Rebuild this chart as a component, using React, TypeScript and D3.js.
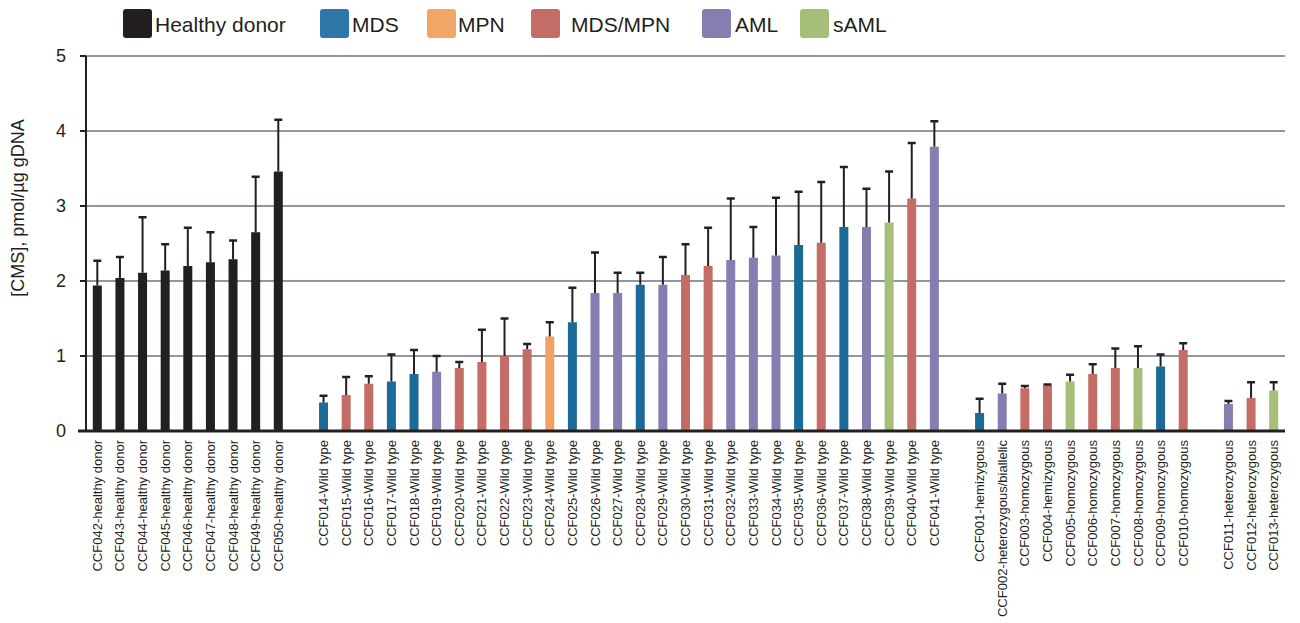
import React from "react";
import * as d3 from "d3";

const sampleIds = [
  "CCF042-healthy donor", "CCF043-healthy donor", "CCF044-healthy donor", "CCF045-healthy donor",
  "CCF046-healthy donor", "CCF047-healthy donor", "CCF048-healthy donor", "CCF049-healthy donor",
  "CCF050-healthy donor",
  "CCF014-Wild type", "CCF015-Wild type", "CCF016-Wild type", "CCF017-Wild type", "CCF018-Wild type",
  "CCF019-Wild type", "CCF020-Wild type", "CCF021-Wild type", "CCF022-Wild type", "CCF023-Wild type",
  "CCF024-Wild type", "CCF025-Wild type", "CCF026-Wild type", "CCF027-Wild type", "CCF028-Wild type",
  "CCF029-Wild type", "CCF030-Wild type", "CCF031-Wild type", "CCF032-Wild type", "CCF033-Wild type",
  "CCF034-Wild type", "CCF035-Wild type", "CCF036-Wild type", "CCF037-Wild type", "CCF038-Wild type",
  "CCF039-Wild type", "CCF040-Wild type", "CCF041-Wild type",
  "CCF001-hemizygous", "CCF002-heterozygous/biallelic", "CCF003-homozygous", "CCF004-hemizygous",
  "CCF005-homozygous", "CCF006-homozygous", "CCF007-homozygous", "CCF008-homozygous",
  "CCF009-homozygous", "CCF010-homozygous",
  "CCF011-heterozygous", "CCF012-heterozygous", "CCF013-heterozygous",
];

const sampleGroup = [
  0, 0, 0, 0, 0, 0, 0, 0, 0,
  1, 1, 1, 1, 1, 1, 1, 1, 1, 1, 1, 1, 1, 1, 1, 1, 1, 1, 1, 1, 1, 1, 1, 1, 1, 1, 1, 1,
  2, 2, 2, 2, 2, 2, 2, 2, 2, 2,
  3, 3, 3,
];

const cmsMean = [
  1.94, 2.04, 2.11, 2.14, 2.20, 2.25, 2.29, 2.65, 3.46,
  0.38, 0.48, 0.63, 0.66, 0.76, 0.79, 0.84, 0.92, 1.00, 1.09,
  1.26, 1.45, 1.84, 1.84, 1.95, 1.95, 2.08, 2.20, 2.28, 2.31,
  2.34, 2.48, 2.51, 2.72, 2.72, 2.78, 3.10, 3.79,
  0.24, 0.50, 0.57, 0.61, 0.66, 0.76, 0.84, 0.84, 0.86, 1.08,
  0.36, 0.44, 0.54,
];

const cmsError = [
  0.33, 0.28, 0.74, 0.35, 0.51, 0.40, 0.25, 0.74, 0.69,
  0.09, 0.24, 0.10, 0.36, 0.32, 0.21, 0.08, 0.43, 0.50, 0.07,
  0.19, 0.46, 0.54, 0.27, 0.16, 0.37, 0.41, 0.51, 0.82, 0.41,
  0.77, 0.71, 0.81, 0.80, 0.51, 0.68, 0.74, 0.34,
  0.19, 0.13, 0.03, 0.01, 0.09, 0.13, 0.26, 0.29, 0.16, 0.09,
  0.04, 0.21, 0.11,
];

const diagnosis = [
  "Healthy donor", "Healthy donor", "Healthy donor", "Healthy donor", "Healthy donor",
  "Healthy donor", "Healthy donor", "Healthy donor", "Healthy donor",
  "MDS", "MDS/MPN", "MDS/MPN", "MDS", "MDS", "AML", "MDS/MPN", "MDS/MPN", "MDS/MPN", "MDS/MPN",
  "MPN", "MDS", "AML", "AML", "MDS", "AML", "MDS/MPN", "MDS/MPN", "AML", "AML",
  "AML", "MDS", "MDS/MPN", "MDS", "AML", "sAML", "MDS/MPN", "AML",
  "MDS", "AML", "MDS/MPN", "MDS/MPN", "sAML", "MDS/MPN", "MDS/MPN", "sAML", "MDS", "MDS/MPN",
  "AML", "MDS/MPN", "sAML",
];

const categories = ["Healthy donor", "MDS", "MPN", "MDS/MPN", "AML", "sAML"];
const categoryColors = ["#231f20", "#1c6a98", "#f0a263", "#c46d66", "#877db0", "#a5bf78"];
const legendColors = ["#231f20", "#2d77a9", "#f1a566", "#c46d66", "#877db0", "#a5bf78"];
const legendX = [123, 320, 427, 531, 702, 800];
const legendTextX = [155, 352, 458, 571, 735, 833];

const yTicks = [0, 1, 2, 3, 4, 5];

export default function App() {
  const width = 1300;
  const height = 623;

  // build slots with a gap slot between groups
  const slots: string[] = [];
  sampleIds.forEach((id, i) => {
    if (i > 0 && sampleGroup[i] !== sampleGroup[i - 1]) slots.push("gap" + i);
    slots.push(id);
  });

  const x = d3.scaleBand<string>().domain(slots).range([86, 1285]).padding(0);
  const y = d3.scaleLinear().domain([0, 5]).range([431, 56]);
  const color = d3.scaleOrdinal<string, string>().domain(categories).range(categoryColors);

  const step = x.step();
  const barW = 9;
  const capW = 8;
  const font = "Liberation Sans, Arial, sans-serif";

  return (
    <svg
      width={width}
      height={height}
      style={{ position: "absolute", left: 0, top: 0, background: "#fff" }}
      fontFamily={font}
    >
      {/* gridlines */}
      {yTicks.filter((t) => t > 0).map((t) => (
        <line key={"g" + t} x1={86} x2={1285} y1={y(t)} y2={y(t)} stroke="#8f989f" strokeWidth={2} />
      ))}
      {/* bars */}
      {sampleIds.map((id, i) => {
        const cx = (x(id) as number) + step / 2;
        return (
          <rect
            key={"b" + id}
            x={cx - barW / 2}
            y={y(cmsMean[i])}
            width={barW}
            height={y(0) - y(cmsMean[i])}
            fill={color(diagnosis[i])}
          />
        );
      })}
      {/* error bars */}
      {sampleIds.map((id, i) => {
        const cx = (x(id) as number) + step / 2;
        const top = y(cmsMean[i] + cmsError[i]);
        return (
          <g key={"e" + id} stroke="#231f20">
            <line x1={cx} x2={cx} y1={y(cmsMean[i])} y2={top} strokeWidth={2} />
            <line x1={cx - capW / 2} x2={cx + capW / 2} y1={top} y2={top} strokeWidth={2.5} />
          </g>
        );
      })}
      {/* y axis */}
      <line x1={86} x2={86} y1={y(5)} y2={y(0)} stroke="#231f20" strokeWidth={2} />
      {yTicks.map((t) => (
        <g key={"t" + t}>
          <line x1={80} x2={86} y1={y(t)} y2={y(t)} stroke="#231f20" strokeWidth={2} />
          <text x={66} y={y(t)} dy="0.35em" textAnchor="end" fontSize={18} fill="#231f20">
            {t}
          </text>
        </g>
      ))}
      {/* x axis */}
      <line x1={78} x2={1285} y1={y(0)} y2={y(0)} stroke="#231f20" strokeWidth={3} />
      {/* x labels */}
      {sampleIds.map((id) => {
        const cx = (x(id) as number) + step / 2;
        return (
          <text
            key={"l" + id}
            transform={`translate(${cx},440) rotate(-90)`}
            textAnchor="end"
            dy="0.35em"
            fontSize={13}
            fill="#231f20"
          >
            {id}
          </text>
        );
      })}
      {/* y title */}
      <text
        transform="translate(18,208) rotate(-90)"
        textAnchor="middle"
        dy="0.35em"
        fontSize={18}
        fill="#231f20"
      >
        [CMS], pmol/µg gDNA
      </text>
      {/* legend */}
      {categories.map((c, i) => (
        <g key={"lg" + c}>
          <rect x={legendX[i]} y={9} width={29} height={29} rx={3} fill={legendColors[i]} />
          <text x={legendTextX[i]} y={32} fontSize={21} fill="#231f20">
            {c}
          </text>
        </g>
      ))}
    </svg>
  );
}
